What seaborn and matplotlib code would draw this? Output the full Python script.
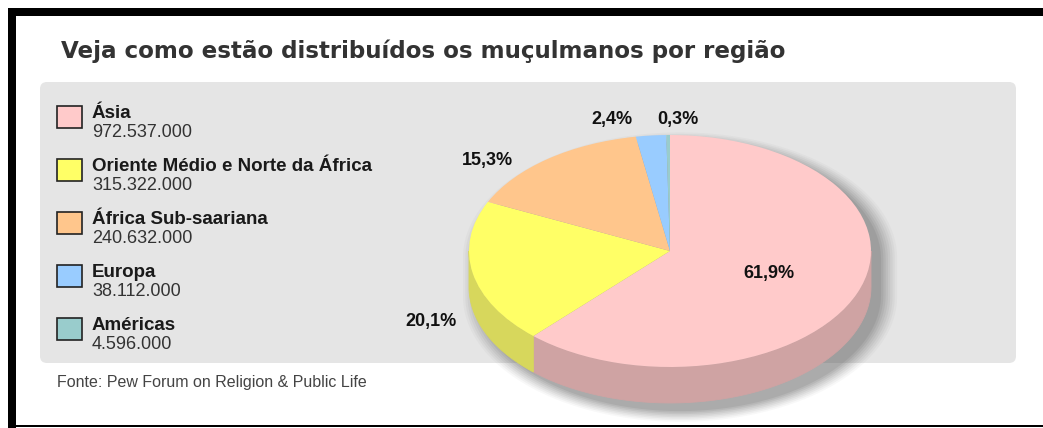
import matplotlib
matplotlib.use("Agg")
import matplotlib.pyplot as plt
import seaborn as sns
import numpy as np
from matplotlib.patches import Rectangle, FancyBboxPatch, Polygon

# ---------------- data ----------------
categories = ["Ásia", "Oriente Médio e Norte da África", "África Sub-saariana",
              "Europa", "Américas"]
populations = [972537000, 315322000, 240632000, 38112000, 4596000]
top_colors = ["#ffcaca", "#ffff66", "#ffc68c", "#99ccff", "#99cccc"]
side_colors = ["#cfa3a3", "#d7d75c", "#d3a273", "#7fa9d3", "#7fa9a9"]
title = "Veja como estão distribuídos os muçulmanos por região"
source = "Fonte: Pew Forum on Religion & Public Life"

# label placement (pie units, relative to the pie centre)
label_pos = [(0.49, -0.19), (-1.19, -0.61), (-0.91, 0.78), (-0.29, 1.13), (0.04, 1.13)]

sns.set_theme(style="white")
plt.rcParams["font.family"] = ["Liberation Sans", "DejaVu Sans"]

W, H = 1043, 428
fig = plt.figure(figsize=(W / 100, H / 100), dpi=100)
fig.patch.set_facecolor("white")

# background / decoration axes in pixel units
bg = fig.add_axes([0, 0, 1, 1], zorder=0)
bg.set_xlim(0, W)
bg.set_ylim(H, 0)
bg.axis("off")

# black frame
bg.add_patch(Rectangle((8, 8), W, 8, fc="black", ec="none"))
bg.add_patch(Rectangle((8, 8), 8, H, fc="black", ec="none"))
bg.add_patch(Rectangle((8, 424.5), W, 2.5, fc="black", ec="none"))

# grey panel
bg.add_patch(FancyBboxPatch((40, 82), 976, 281,
                            boxstyle="round,pad=0,rounding_size=7",
                            fc="#e5e5e5", ec="none"))

# title
bg.text(61, 58, title, fontsize=16.6, fontweight="heavy", color="#333333",
        family=["DejaVu Sans"], va="baseline", ha="left")

# legend
row_top = 106
row_step = 53
for i, (cat, val, col) in enumerate(zip(categories, populations, top_colors)):
    y = row_top + i * row_step
    bg.add_patch(Rectangle((57, y), 25, 22, fc=col, ec="#222222", lw=1.2))
    bg.text(92, y + 12, cat, fontsize=13.5, fontweight="bold", color="#1a1a1a",
            va="baseline", ha="left")
    bg.text(92, y + 31, f"{val:,}".replace(",", "."), fontsize=13,
            color="#333333", va="baseline", ha="left")

# source
bg.text(57, 386.5, source, fontsize=11.5, color="#444444", va="baseline", ha="left")

# ---------------- pie ----------------
cx, cy, rx, ry = 670, 251, 201, 116
x0, x1 = -1.3, 1.3
y0, y1 = -1.55, 1.3
pax = fig.add_axes([(cx + x0 * rx) / W, (H - (cy - y0 * ry)) / H,
                    (x1 - x0) * rx / W, (y1 - y0) * ry / H], zorder=1)
pax.patch.set_alpha(0)

wedges, _ = pax.pie(populations, colors=top_colors, startangle=90,
                    counterclock=False, radius=1, center=(0, 0),
                    wedgeprops=dict(linewidth=0, zorder=3))
pax.set_aspect("auto")
pax.set_xlim(x0, x1)
pax.set_ylim(y0, y1)
pax.axis("off")

depth = 0.31

# shadow (blurred silhouette offset to the lower right)
ta = np.radians(np.linspace(0, 180, 90))
tb = np.radians(np.linspace(180, 360, 90))
sil_x = np.r_[np.cos(ta), np.cos(tb)]
sil_y = np.r_[np.sin(ta), np.sin(tb) - depth]
for s, a in zip(np.linspace(1.08, 1.0, 8), [0.04, 0.05, 0.06, 0.07, 0.08, 0.09, 0.1, 0.12]):
    xs = 0.05 + sil_x * s
    ys = -0.07 - depth / 2 + (sil_y + depth / 2) * s
    pax.add_patch(Polygon(np.column_stack([xs, ys]), closed=True,
                          fc="#555555", ec="none", alpha=a, zorder=1))

# side band of the 3D pie, derived from the wedge angles
for w, c in zip(wedges, side_colors):
    t1, t2 = w.theta1, w.theta2
    for k in (-360, 0, 360):
        a = max(t1, 180 + k)
        b = min(t2, 360 + k)
        if b > a:
            t = np.radians(np.linspace(a, b, 80))
            xs, ys = np.cos(t), np.sin(t)
            poly = np.column_stack([np.r_[xs, xs[::-1]], np.r_[ys, ys[::-1] - depth]])
            pax.add_patch(Polygon(poly, closed=True, fc=c, ec=c, lw=0.6, zorder=2))

# percentage labels
total = sum(populations)
for val, (lx, ly) in zip(populations, label_pos):
    pct = f"{100 * val / total:.1f}%".replace(".", ",")
    pax.text(lx, ly, pct, fontsize=13, fontweight="bold", color="#111111",
             ha="center", va="center", zorder=5)

fig.savefig("out.png", dpi=100, facecolor="white")
